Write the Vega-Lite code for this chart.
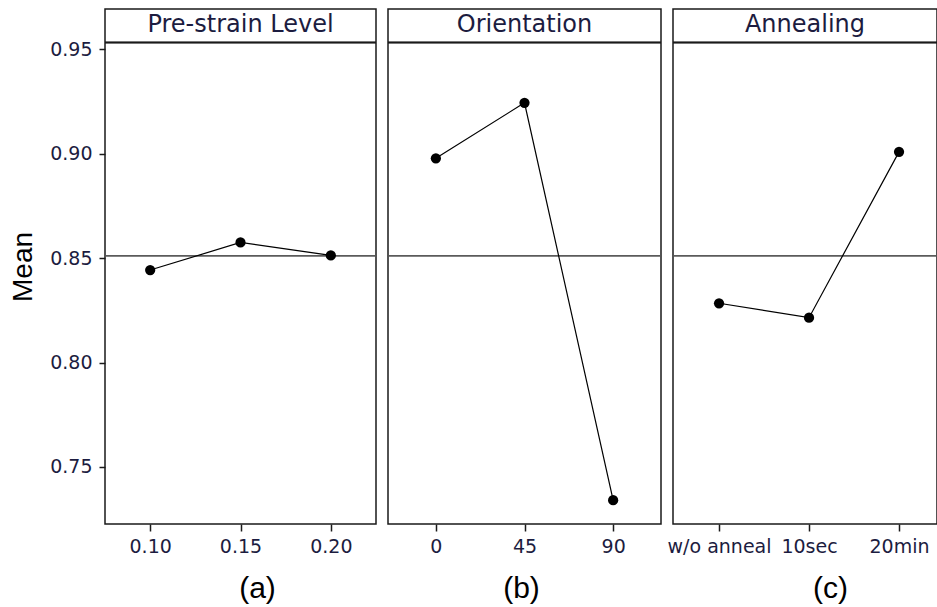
{
  "$schema": "https://vega.github.io/schema/vega-lite/v6.json",
  "padding": {"left": 8, "top": 8, "right": 0, "bottom": 0},
  "background": "white",
  "bounds": "flush",
  "data": {"values": [
    {"factor": "Pre-strain Level", "level": "0.10", "mean": 0.8443},
    {"factor": "Pre-strain Level", "level": "0.15", "mean": 0.8575},
    {"factor": "Pre-strain Level", "level": "0.20", "mean": 0.8513},
    {"factor": "Orientation", "level": "0", "mean": 0.8978},
    {"factor": "Orientation", "level": "45", "mean": 0.9244},
    {"factor": "Orientation", "level": "90", "mean": 0.7341},
    {"factor": "Annealing", "level": "w/o anneal", "mean": 0.8284},
    {"factor": "Annealing", "level": "10sec", "mean": 0.8215},
    {"factor": "Annealing", "level": "20min", "mean": 0.9009}
  ]},
  "config": {
    "view": {"stroke": "#1a1a1a", "strokeWidth": 1.5},
    "axis": {
      "labelFont": "DejaVu Sans", "labelFontSize": 19, "labelColor": "#1c1c40",
      "tickColor": "#1a1a1a", "tickSize": 7, "tickWidth": 1.5,
      "domain": false, "grid": false,
      "titleFont": "Liberation Sans", "titleFontWeight": "normal", "titleColor": "#000000"
    }
  },
  "spacing": 12,
  "hconcat": [
    {
      "width": 271, "height": 515,
      "transform": [{"filter": "datum.factor === 'Pre-strain Level'"}],
      "layer": [
        {"mark": {"type": "rule", "color": "#555555", "strokeWidth": 1},
         "encoding": {"y": {"datum": 0.8511, "type": "quantitative", "scale": {"domain": [0.7227, 0.9693], "nice": false, "zero": false}}}},
        {"mark": {"type": "rule", "color": "#1a1a1a", "strokeWidth": 1.5},
         "encoding": {"y": {"datum": 0.9532, "type": "quantitative", "scale": {"domain": [0.7227, 0.9693], "nice": false, "zero": false}}}},
        {"mark": {"type": "line", "color": "#000000", "strokeWidth": 1.2},
         "encoding": {
           "x": {"field": "level", "type": "nominal", "sort": ["0.10", "0.15", "0.20"], "scale": {"type": "point", "padding": 0.5},
                 "axis": {"title": "(a)", "labelAngle": 0, "labelPadding": 6, "titleFontSize": 30, "titlePadding": 17, "titleX": 152, "titleAlign": "center"}},
           "y": {"field": "mean", "type": "quantitative", "scale": {"domain": [0.7227, 0.9693], "nice": false, "zero": false},
                 "axis": {"values": [0.75, 0.8, 0.85, 0.9, 0.95], "format": ".2f", "title": "Mean", "titleFontSize": 28, "titlePadding": 12, "labelPadding": 7, "tickSize": 6}}
         }},
        {"mark": {"type": "point", "filled": true, "color": "#000000", "size": 105, "opacity": 1},
         "encoding": {
           "x": {"field": "level", "type": "nominal", "sort": ["0.10", "0.15", "0.20"]},
           "y": {"field": "mean", "type": "quantitative"}
         }},
        {"transform": [{"aggregate": [], "groupby": ["factor"]}],
         "mark": {"type": "text", "font": "DejaVu Sans", "fontSize": 24, "color": "#1c1c40", "baseline": "middle", "align": "center"},
         "encoding": {
           "y": {"datum": 0.9617, "type": "quantitative"},
           "text": {"field": "factor"}
         }}
      ]
    },
    {
      "width": 273, "height": 515,
      "transform": [{"filter": "datum.factor === 'Orientation'"}],
      "layer": [
        {"mark": {"type": "rule", "color": "#555555", "strokeWidth": 1},
         "encoding": {"y": {"datum": 0.8511, "type": "quantitative", "scale": {"domain": [0.7227, 0.9693], "nice": false, "zero": false}, "axis": null}}},
        {"mark": {"type": "rule", "color": "#1a1a1a", "strokeWidth": 1.5},
         "encoding": {"y": {"datum": 0.9532, "type": "quantitative", "scale": {"domain": [0.7227, 0.9693], "nice": false, "zero": false}, "axis": null}}},
        {"mark": {"type": "line", "color": "#000000", "strokeWidth": 1.2},
         "encoding": {
           "x": {"field": "level", "type": "nominal", "sort": ["0", "45", "90"], "scale": {"type": "point", "padding": 0.54},
                 "axis": {"title": "(b)", "labelAngle": 0, "labelPadding": 6, "titleFontSize": 30, "titlePadding": 17, "titleX": 133, "titleAlign": "center"}},
           "y": {"field": "mean", "type": "quantitative", "scale": {"domain": [0.7227, 0.9693], "nice": false, "zero": false}, "axis": null}
         }},
        {"mark": {"type": "point", "filled": true, "color": "#000000", "size": 105, "opacity": 1},
         "encoding": {
           "x": {"field": "level", "type": "nominal", "sort": ["0", "45", "90"]},
           "y": {"field": "mean", "type": "quantitative", "axis": null}
         }},
        {"transform": [{"aggregate": [], "groupby": ["factor"]}],
         "mark": {"type": "text", "font": "DejaVu Sans", "fontSize": 24, "color": "#1c1c40", "baseline": "middle", "align": "center"},
         "encoding": {
           "y": {"datum": 0.9617, "type": "quantitative", "axis": null},
           "text": {"field": "factor"}
         }}
      ]
    },
    {
      "width": 264, "height": 515,
      "transform": [{"filter": "datum.factor === 'Annealing'"}],
      "layer": [
        {"mark": {"type": "rule", "color": "#555555", "strokeWidth": 1},
         "encoding": {"y": {"datum": 0.8511, "type": "quantitative", "scale": {"domain": [0.7227, 0.9693], "nice": false, "zero": false}, "axis": null}}},
        {"mark": {"type": "rule", "color": "#1a1a1a", "strokeWidth": 1.5},
         "encoding": {"y": {"datum": 0.9532, "type": "quantitative", "scale": {"domain": [0.7227, 0.9693], "nice": false, "zero": false}, "axis": null}}},
        {"mark": {"type": "line", "color": "#000000", "strokeWidth": 1.2},
         "encoding": {
           "x": {"field": "level", "type": "nominal", "sort": ["w/o anneal", "10sec", "20min"], "scale": {"type": "point", "padding": 0.4667, "align": 0.548},
                 "axis": {"title": "(c)", "labelAngle": 0, "labelPadding": 6, "titleFontSize": 30, "titlePadding": 17, "titleX": 157, "titleAlign": "center"}},
           "y": {"field": "mean", "type": "quantitative", "scale": {"domain": [0.7227, 0.9693], "nice": false, "zero": false}, "axis": null}
         }},
        {"mark": {"type": "point", "filled": true, "color": "#000000", "size": 105, "opacity": 1},
         "encoding": {
           "x": {"field": "level", "type": "nominal", "sort": ["w/o anneal", "10sec", "20min"]},
           "y": {"field": "mean", "type": "quantitative", "axis": null}
         }},
        {"transform": [{"aggregate": [], "groupby": ["factor"]}],
         "mark": {"type": "text", "font": "DejaVu Sans", "fontSize": 24, "color": "#1c1c40", "baseline": "middle", "align": "center"},
         "encoding": {
           "y": {"datum": 0.9617, "type": "quantitative", "axis": null},
           "text": {"field": "factor"}
         }}
      ]
    }
  ]
}
